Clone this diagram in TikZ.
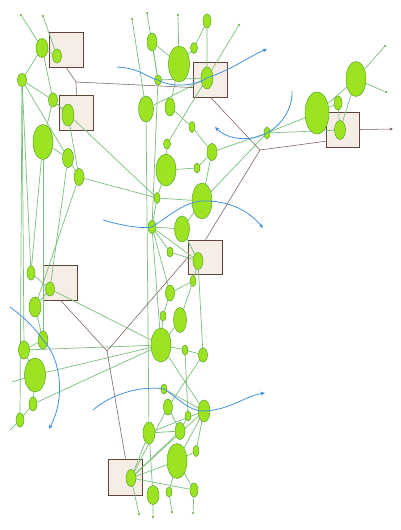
\documentclass[tikz,border=0pt]{standalone}
\usetikzlibrary{shapes.geometric,arrows.meta}
\pgfdeclarelayer{boxes}
\pgfdeclarelayer{wires}
\pgfsetlayers{boxes,wires,main}
\definecolor{leaf}{RGB}{156,228,34}
\definecolor{leafdark}{RGB}{90,165,40}
\definecolor{wire}{RGB}{122,192,122}
\definecolor{boxline}{RGB}{96,68,58}
\definecolor{boxfill}{RGB}{245,237,230}
\definecolor{flow}{RGB}{66,146,222}
\begin{document}
\begin{tikzpicture}[x=1pt,y=-1pt]
\tikzset{
	a/.style={ellipse, draw=leafdark, fill=leaf, inner sep=0pt, line width=.5pt},
	sz/.style 2 args={minimum width=#1pt, minimum height=#2pt},
	dt/.style={circle, fill=leafdark, inner sep=0pt, minimum size=2.4pt},
	bx/.style={draw=boxline, fill=boxfill, line width=.6pt, minimum width=34pt, minimum height=35pt},
	ln/.style={draw=wire, line width=.7pt},
	br/.style={draw=boxline!85, line width=.55pt},
	bl/.style={draw=flow, line width=.8pt, ->, >={Stealth[length=4.5pt,width=4pt]}}
}
\useasboundingbox (0,0) rectangle (400,530);

% Kaesten
\begin{pgfonlayer}{boxes}
\fill[white] (0,0) rectangle (400,530);
\node[bx] (B1) at (66,49.5) {};
\node[bx] (B2) at (76.5,112.5) {};
\node[bx] (B3) at (210.5,79.5) {};
\node[bx, minimum width=33pt] (B4) at (342.5,129.5) {};
\node[bx, minimum height=34pt] (B5) at (205.5,257) {};
\node[bx] (B6) at (60.5,282.5) {};
\node[bx, minimum height=36pt] (B7) at (125.5,477) {};
\end{pgfonlayer}

% Enden
\node[dt] (d1) at (21,15) {};
\node[dt] (d2) at (43,16) {};
\node[dt] (d3) at (132,19) {};
\node[dt] (d4) at (147,13) {};
\node[dt] (d5) at (178,15) {};
\node[dt] (d6) at (239,25) {};
\node[dt] (d7) at (385,46) {};
\node[dt] (d8) at (386,92) {};
\node[dt] (d9) at (139,514) {};
\node[dt] (d10) at (153,517) {};
\node[dt] (d11) at (172,512) {};
\node[dt] (d12) at (193,513) {};
\coordinate (e1) at (12,382);
\coordinate (e2) at (10,430);
\coordinate (j1) at (76,82);
\coordinate (j2) at (260,150);
\coordinate (j3) at (107,351);
\coordinate (o1) at (393,129);

% linke Spalte
\node[a, sz={12}{19}] (l1) at (42,48) {};
\node[a, sz={9}{14}] (l2) at (57,56) {};
\node[a, sz={9}{13}] (l3) at (22,80) {};
\node[a, sz={9}{14}] (l4) at (53,100) {};
\node[a, sz={12}{22}] (l5) at (68,115) {};
\node[a, sz={20}{35}] (l6) at (43,142) {};
\node[a, sz={11}{19}] (l7) at (68,158) {};
\node[a, sz={10}{17}] (l8) at (79,177) {};
\node[a, sz={8}{14}] (l9) at (31,273) {};
\node[a, sz={9}{14}] (l10) at (50,289) {};
\node[a, sz={12}{20}] (l11) at (35,307) {};
\node[a, sz={10}{18}] (l12) at (43,340) {};
\node[a, sz={11}{18}] (l13) at (24,350) {};
\node[a, sz={21}{34}] (l14) at (35,375) {};
\node[a, sz={8}{14}] (l15) at (33,404) {};
\node[a, sz={8}{14}] (l16) at (20,420) {};

% mittlere Spalte
\node[a, sz={10}{18}] (m1) at (152,42) {};
\node[a, sz={21}{36}] (m2) at (179,64) {};
\node[a, sz={7}{11}] (m3) at (194,48) {};
\node[a, sz={8}{14}] (m4) at (207,21) {};
\node[a, sz={12}{22}] (m5) at (207,78) {};
\node[a, sz={7}{10}] (m6) at (158,80) {};
\node[a, sz={15}{26}] (m7) at (146,109) {};
\node[a, sz={10}{18}] (m8) at (170,107) {};
\node[a, sz={6}{11}] (m9) at (192,127) {};
\node[a, sz={7}{10}] (m10) at (167,144) {};
\node[a, sz={10}{17}] (m11) at (212,152) {};
\node[a, sz={20}{32}] (m12) at (166,170) {};
\node[a, sz={6}{10}] (m13) at (197,168) {};
\node[a, sz={6}{11}] (m14) at (157,198) {};
\node[a, sz={20}{36}] (m15) at (202,201) {};
\node[a, sz={8}{13}] (m16) at (152,227) {};
\node[a, sz={15}{26}] (m17) at (182,229) {};
\node[a, sz={6}{10}] (m18) at (170,252) {};
\node[a, sz={10}{17}] (m19) at (198,261) {};
\node[a, sz={6}{11}] (m20) at (193,281) {};
\node[a, sz={9}{16}] (m21) at (170,293) {};
\node[a, sz={6}{10}] (m22) at (163,316) {};
\node[a, sz={13}{25}] (m23) at (180,320) {};
\node[a, sz={20}{34}] (m24) at (161,345) {};
\node[a, sz={6}{10}] (m25) at (185,350) {};
\node[a, sz={9}{14}] (m26) at (203,355) {};

% rechts
\node[a, sz={6}{12}] (r1) at (267,133) {};
\node[a, sz={24}{42}] (r2) at (317,113) {};
\node[a, sz={8}{14}] (r3) at (338,103) {};
\node[a, sz={11}{19}] (r4) at (340,130) {};
\node[a, sz={20}{35}] (r5) at (356,79) {};

% unten
\node[a, sz={6}{10}] (b1) at (164,389) {};
\node[a, sz={9}{16}] (b2) at (168,407) {};
\node[a, sz={12}{22}] (b3) at (204,411) {};
\node[a, sz={6}{10}] (b4) at (188,416) {};
\node[a, sz={12}{22}] (b5) at (149,433) {};
\node[a, sz={10}{17}] (b6) at (180,431) {};
\node[a, sz={6}{11}] (b7) at (196,451) {};
\node[a, sz={20}{35}] (b8) at (177,461) {};
\node[a, sz={10}{17}] (b9) at (131,478) {};
\node[a, sz={12}{19}] (b10) at (153,495) {};
\node[a, sz={6}{10}] (b11) at (169,492) {};
\node[a, sz={8}{14}] (b12) at (194,490) {};

% Verbindungen
\begin{pgfonlayer}{wires}
\draw[ln] (d1) -- (l1) -- (l3) -- (l4) -- (l5);
\draw[ln] (d2) -- (l2) -- (l1) -- (l4) -- (l6) -- (l7) -- (l8);
\draw[ln] (l3) -- (l7) -- (l10);
\draw[ln] (l3) -- (l9);
\draw[ln] (l3) -- (l13);
\draw[ln] (l3) -- (l16);
\draw[ln] (l4) -- (m14);
\draw[ln] (l5) -- (l8) -- (l11);
\draw[ln] (l6) -- (l9) -- (l10) -- (l11) -- (l12) -- (l13) -- (l14) -- (l15) -- (l16) -- (e2);
\draw[ln] (l6) -- (l12);
\draw[ln] (l8) -- (m14);
\draw[ln] (l10) -- (m24);
\draw[ln] (l13) -- (m24);
\draw[ln] (e1) -- (l14) -- (m24);
\draw[ln] (l15) -- (m24);

\draw[ln] (d3) -- (m7) -- (b5);
\draw[ln] (d4) -- (m6) -- (m16);
\draw[ln] (d5) -- (m2) -- (m3) -- (m4) -- (m5);
\draw[ln] (m1) -- (m2);
\draw[ln] (m1) -- (m6) -- (m5);
\draw[ln] (m7) -- (m5);
\draw[ln] (m2) -- (m8) -- (m9) -- (m11) -- (r1) -- (r2);
\draw[ln] (d6) -- (m10) -- (m12) -- (m14) -- (m15);
\draw[ln] (m11) -- (m13) -- (m12);
\draw[ln] (r1) -- (r4);
\draw[ln] (r1) -- (m15);
\draw[ln] (m11) -- (m15);
\draw[ln] (r2) -- (r3) -- (r4) -- (r5) -- (d7);
\draw[ln] (r2) -- (r5) -- (d8);
\draw[ln] (m16) -- (m17) -- (m19) -- (m20) -- (m21) -- (m16);
\draw[ln] (m16) -- (m18) -- (m19);
\draw[ln] (m16) -- (m19);
\draw[ln] (m14) -- (m16);
\draw[ln] (m15) -- (m17);
\draw[ln] (m21) -- (m22) -- (m24);
\draw[ln] (m20) -- (m23) -- (m24) -- (m25) -- (m26);
\draw[ln] (m19) -- (m26);
\draw[ln] (m16) -- (m24);
\draw[ln] (m24) -- (b3);
\draw[ln] (m25) -- (b4);
\draw[ln] (m26) -- (b2);

\draw[ln] (b1) -- (b3) -- (b5);
\draw[ln] (b3) -- (b8) -- (b7) -- (b3);
\draw[ln] (b4) -- (b6);
\draw[ln] (b9) -- (b5) -- (b6);
\draw[ln] (b9) -- (b6);
\draw[ln] (b9) -- (b2);
\draw[ln] (b9) -- (b3);
\draw[ln] (b9) -- (b8);
\draw[ln] (b9) -- (b12) -- (d12);
\draw[ln] (b9) -- (d9);
\draw[ln] (b5) -- (b10) -- (d10);
\draw[ln] (b8) -- (b11) -- (d11);
\draw[ln] (b8) -- (b12);
\draw[ln] (b2) -- (b6);

% braune Linien
\draw[br] (B1.south) -- (j1) -- (B2.north);
\draw[br] (j1) -- (B3.205);
\draw[br] (B3.south) -- (j2) -- (B4.215);
\draw[br] (j2) -- (B5.north);
\draw[br, ->, >={Stealth[length=3.5pt,width=3pt]}] (B4.east) -- (o1);
\draw[br] (B6.south) -- (j3) -- (B5.west);
\draw[br] (j3) -- (B7.north);
\end{pgfonlayer}

% Fluss
\coordinate (c1s) at (117,67);
\coordinate (c1e) at (267,49);
\coordinate (c2s) at (292,91);
\coordinate (c2e) at (215,127);
\coordinate (c3s) at (103,220);
\coordinate (c3e) at (263,228);
\coordinate (c4s) at (10,307);
\coordinate (c4e) at (49,429);
\coordinate (c5s) at (93,410);
\coordinate (c5e) at (265,393);
\draw[bl] (c1s) .. controls (140,68) and (148,78) .. (m6.center) .. controls (172,88) and (195,86) .. (m5.center) .. controls (235,68) and (250,56) .. (c1e);
\draw[bl] (c2s) .. controls (293,110) and (280,126) .. (r1.center) .. controls (250,142) and (228,140) .. (c2e);
\draw[bl] (c3s) .. controls (120,225) and (140,229) .. (m16.center) .. controls (170,215) and (185,202) .. (m15.center) .. controls (230,200) and (250,212) .. (c3e);
\draw[bl] (c4s) .. controls (25,318) and (35,328) .. (l12.center) .. controls (62,360) and (65,400) .. (c4e);
\draw[bl] (c5s) .. controls (110,395) and (140,385) .. (b1.center) .. controls (178,398) and (190,412) .. (b3.center) .. controls (230,410) and (245,396) .. (c5e);

\end{tikzpicture}
\end{document}
